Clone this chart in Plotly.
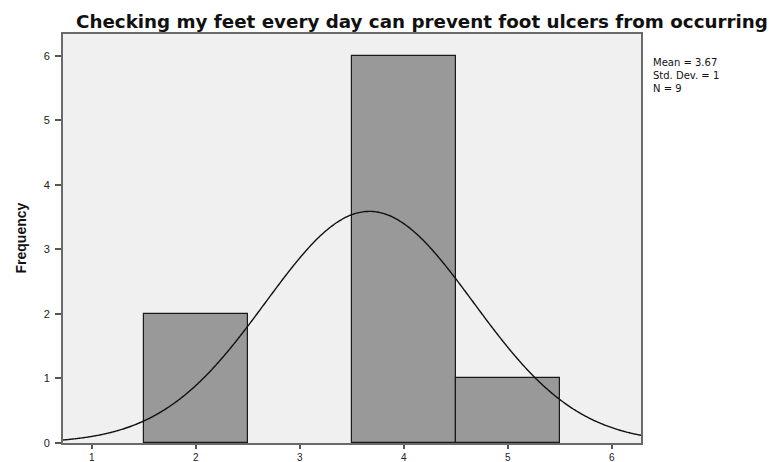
import numpy as np
import plotly.graph_objects as go

# Data
bin_centers = [2, 4, 5]
frequencies = [2, 6, 1]
bin_width = 1
stat_mean = 3.67
stat_sd = 1.0
stat_n = 9
x_ticks = [1, 2, 3, 4, 5, 6]
y_ticks = [0, 1, 2, 3, 4, 5, 6]
title_text = "Checking my feet every day can prevent foot ulcers from occurring"
y_title = "Frequency"
stats_lines = ["Mean = 3.67", "Std. Dev. = 1", "N = 9"]

x_min, x_max = 0.724, 6.28
y_min, y_max = 0, 6.34

# Normal curve fitted from the stated mean / sd / N
xc = np.linspace(x_min, x_max, 400)
yc = stat_n * bin_width / (stat_sd * np.sqrt(2 * np.pi)) * np.exp(-0.5 * ((xc - stat_mean) / stat_sd) ** 2)

fig = go.Figure()
fig.add_trace(go.Bar(
    x=bin_centers, y=frequencies, width=bin_width,
    marker=dict(color="#999999", line=dict(color="#1a1a1a", width=1.2)),
    hoverinfo="skip", showlegend=False,
))
fig.add_trace(go.Scatter(
    x=xc, y=yc, mode="lines", line=dict(color="#111111", width=1.4, shape="spline"),
    hoverinfo="skip", showlegend=False,
))

font_main = "Liberation Sans, Arial, sans-serif"

# page has an 8px body margin; figure sized to fit the 776x462 window
W, H = 768, 454
L, R, T, B = 55, 135, 26, 19
PW = W - L - R
fig.update_layout(
    width=W, height=H,
    margin=dict(l=L, r=R, t=T, b=B, autoexpand=False),
    paper_bgcolor="white", plot_bgcolor="#f0f0f0",
    bargap=0,
    title=dict(text="<b>" + title_text + "</b>", xref="paper", x=0.621, xanchor="center",
               yref="container", y=1 - 14 / H, yanchor="middle",
               font=dict(family="DejaVu Sans, sans-serif", size=18.3, color="#111111")),
    xaxis=dict(range=[x_min, x_max], tickvals=x_ticks, ticktext=[str(v) for v in x_ticks],
               ticks="outside", ticklen=4, tickwidth=2, tickcolor="#555555",
               showgrid=False, zeroline=False, showline=True, linecolor="#6a6a6a",
               linewidth=2, mirror=True, automargin=False, ticklabelstandoff=0,
               tickfont=dict(family=font_main, size=10, color="#222222")),
    yaxis=dict(range=[y_min, y_max], tickvals=y_ticks, ticktext=[str(v) for v in y_ticks],
               ticks="outside", ticklen=6, tickwidth=1.5, tickcolor="#555555",
               showgrid=False, zeroline=False, showline=True, linecolor="#6a6a6a",
               linewidth=2, mirror=True, automargin=False, ticklabelstandoff=3,
               tickfont=dict(family=font_main, size=11, color="#222222")),
)

fig.add_annotation(
    text="<b>" + y_title + "</b>", textangle=-90, xref="paper", yref="paper",
    x=(12 - L) / PW, y=0.5, xanchor="center", yanchor="middle", showarrow=False,
    font=dict(family=font_main, size=14, color="#111111"),
)

fig.add_annotation(
    text="<br>".join(stats_lines), xref="paper", yref="paper",
    x=(651 - 63) / 578, y=1 - (55 - 34) / 409,
    xanchor="left", yanchor="top", align="left", showarrow=False,
    font=dict(family="DejaVu Sans, sans-serif", size=10, color="#111111"),
)

fig.write_html("out.html")
